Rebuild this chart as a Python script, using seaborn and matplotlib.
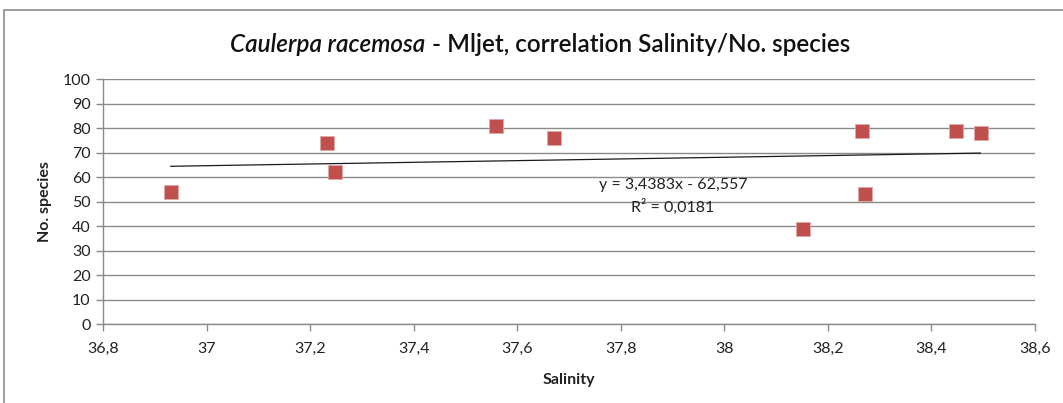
import matplotlib
matplotlib.use("Agg")
import matplotlib.pyplot as plt
import seaborn as sns
import numpy as np
import pandas as pd
from matplotlib.patches import Rectangle

# Sampling stations around Mljet: salinity vs. number of species
salinity = [36.93, 37.232, 37.248, 37.559, 37.671, 38.151, 38.266, 38.271, 38.448, 38.495]
no_species = [54, 74, 62, 81, 76, 39, 79, 53, 79, 78]

# Linear trendline coefficients
slope = 3.4383
intercept = -62.557
r_squared = 0.0181

x_ticks = [36.8, 37.0, 37.2, 37.4, 37.6, 37.8, 38.0, 38.2, 38.4, 38.6]
x_tick_labels = ["36,8", "37", "37,2", "37,4", "37,6", "37,8", "38", "38,2", "38,4", "38,6"]
y_ticks = list(range(0, 101, 10))

df = pd.DataFrame({"Salinity": salinity, "No. species": no_species})

sns.set_theme(style="white")
plt.rcParams["font.family"] = ["Lato", "DejaVu Sans"]

W, H = 1063, 403
fig = plt.figure(figsize=(W / 100, H / 100), dpi=100)
ax = fig.add_axes([103.3 / W, 1 - 324.3 / H, (1035 - 103.3) / W, (324.3 - 79) / H])

# chart frame
fig.patches.append(Rectangle((4 / W, -0.1), 1.2, 1 - 10 / H + 0.1,
                             transform=fig.transFigure, fill=False,
                             edgecolor="#8c8c8c", linewidth=1.2))

ax.set_xlim(36.8, 38.6)
ax.set_ylim(0, 100)
ax.set_yticks(y_ticks)
ax.set_xticks(x_ticks)
ax.set_xticklabels(x_tick_labels)
ax.yaxis.grid(True, color="#8a8a8a", linewidth=1.0)
ax.xaxis.grid(False)
ax.set_axisbelow(True)

for side in ["top", "right"]:
    ax.spines[side].set_visible(False)
for side in ["left", "bottom"]:
    ax.spines[side].set_color("#8a8a8a")
    ax.spines[side].set_linewidth(1.0)

ax.tick_params(axis="both", which="major", direction="out", length=5, width=1.0,
               color="#8a8a8a", labelsize=11.5, labelcolor="#222222", pad=4,
               bottom=True, left=True)
ax.tick_params(axis="x", pad=8)

# trendline over the data range
xs = np.array([min(salinity), max(salinity)])
ax.plot(xs, slope * xs + intercept, color="#1a1a1a", linewidth=0.9, zorder=2)

sns.scatterplot(data=df, x="Salinity", y="No. species", ax=ax, marker="s",
                s=115, color="#C0504D", edgecolor="#e0a8a6", linewidth=0.6,
                zorder=3, legend=False)

eq_text = f"y = {slope:.4f}x - {abs(intercept):.3f}".replace(".", ",")
r2_text = f"R² = {r_squared:.4f}".replace(".", ",")
fig.text(673 / W, 1 - 185 / H, eq_text, fontsize=11.5,
         ha="center", va="center", color="#222222")
fig.text(673 / W, 1 - 207 / H, r2_text, fontsize=11.5,
         ha="center", va="center", color="#222222")

ax.set_xlabel("Salinity", fontsize=11.5, fontweight="bold", labelpad=12, color="#222222")
ax.set_ylabel("No. species", fontsize=11.5, fontweight="bold", labelpad=8, color="#222222")

# title: italic species name followed by upright text, centred as a whole
title_y = 1 - 44 / H
t1 = fig.text(0, title_y, "Caulerpa racemosa", fontsize=17.5, fontstyle="italic",
              fontweight="semibold", ha="left", va="center", color="#111111")
t2 = fig.text(0, title_y, " - Mljet, correlation Salinity/No. species", fontsize=17.5,
              fontweight="semibold", ha="left", va="center", color="#111111")
fig.canvas.draw()
r = fig.canvas.get_renderer()
w1 = t1.get_window_extent(r).width
w2 = t2.get_window_extent(r).width
left = 540 - (w1 + w2) / 2
t1.set_x(left / W)
t2.set_x((left + w1) / W)

fig.savefig("out.png", dpi=100)
